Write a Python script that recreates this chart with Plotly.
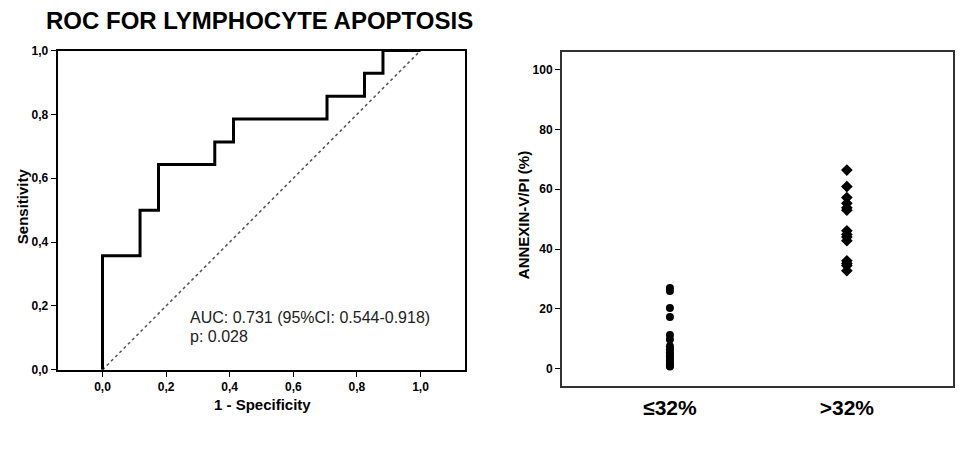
import plotly.graph_objects as go

# ---- ROC data (left panel) ----
fpr = [0, 0, 0.118, 0.118, 0.176, 0.176, 0.353, 0.353, 0.412, 0.412,
       0.706, 0.706, 0.824, 0.824, 0.882, 0.882, 1.0]
tpr = [0, 0.357, 0.357, 0.5, 0.5, 0.643, 0.643, 0.714, 0.714, 0.786,
       0.786, 0.857, 0.857, 0.929, 0.929, 1.0, 1.0]
ref_x = [0, 1]
ref_y = [0, 1]
roc_ticks = [0, 0.2, 0.4, 0.6, 0.8, 1.0]
roc_ticktext = ["0,0", "0,2", "0,4", "0,6", "0,8", "1,0"]
auc_text = "AUC: 0.731 (95%CI: 0.544-0.918)"
p_text = "p: 0.028"

# ---- Annexin data (right panel) ----
categories = ["≤32%", ">32%"]
low_group = [27.0, 26.0, 20.3, 17.3, 11.3, 9.8, 7.5, 6.5, 5.5, 4.8,
             4.0, 3.3, 2.7, 2.0, 1.5, 1.0, 0.8]
high_group = [66.4, 60.9, 57.2, 55.3, 53.8, 53.0, 46.1, 44.9, 44.0,
              42.8, 36.1, 35.2, 34.5, 32.8]
annex_ticks = [0, 20, 40, 60, 80, 100]

W, H = 960, 460
# vertical compensation for the capture (observed y_out = 0.972*y + 6.3)
SY, OY = 0.972, 6.3
def px(x): return x / W
def py(y): return 1 - ((y - OY) / SY) / H

FONT = "Liberation Sans, Arial, sans-serif"

fig = go.Figure()

fig.add_trace(go.Scatter(x=ref_x, y=ref_y, mode="lines",
                         line=dict(color="#555555", width=1.5, dash="dot"),
                         xaxis="x", yaxis="y", showlegend=False, hoverinfo="skip"))
fig.add_trace(go.Scatter(x=fpr, y=tpr, mode="lines",
                         line=dict(color="black", width=3),
                         xaxis="x", yaxis="y", showlegend=False))

fig.add_trace(go.Scatter(x=[0] * len(low_group), y=low_group, mode="markers",
                         marker=dict(symbol="circle", size=8, color="black"),
                         xaxis="x2", yaxis="y2", showlegend=False))
fig.add_trace(go.Scatter(x=[1] * len(high_group), y=high_group, mode="markers",
                         marker=dict(symbol="diamond", size=9, color="black"),
                         xaxis="x2", yaxis="y2", showlegend=False))

tickfont = dict(family=FONT, size=12, color="black", weight="bold")

fig.update_layout(
    width=W, height=H,
    margin=dict(l=0, r=0, t=0, b=0),
    paper_bgcolor="white", plot_bgcolor="white",
    font=dict(family=FONT, color="black"),
    xaxis=dict(domain=[px(57.7), px(465)], range=[-0.141, 1.14],
               tickvals=roc_ticks, ticktext=roc_ticktext, tickfont=tickfont,
               ticks="outside", ticklen=5, tickwidth=1, tickcolor="black",
               showline=True, linecolor="black", linewidth=2, mirror=True,
               showgrid=False, zeroline=False, anchor="y"),
    yaxis=dict(domain=[py(370), py(50)], range=[0, 1],
               tickvals=roc_ticks, ticktext=roc_ticktext, tickfont=tickfont,
               ticks="outside", ticklen=5, tickwidth=1, tickcolor="black",
               showline=True, linecolor="black", linewidth=2, mirror=True,
               showgrid=False, zeroline=False, anchor="x"),
    xaxis2=dict(domain=[px(562), px(953)], range=[-0.61, 1.60],
                tickvals=[0, 1], ticktext=categories,
                tickfont=dict(family=FONT, size=21, color="black", weight="bold"),
                ticks="outside", ticklen=1, tickcolor="rgba(0,0,0,0)",
                showline=True, linecolor="#333333", linewidth=2, mirror=True,
                showgrid=False, zeroline=False, anchor="y2"),
    yaxis2=dict(domain=[py(386.7), py(51.3)], range=[-5.9, 105.9],
                tickvals=annex_ticks, tickfont=tickfont,
                ticks="outside", ticklen=5, tickwidth=1, tickcolor="black",
                showline=True, linecolor="#333333", linewidth=2, mirror=True,
                showgrid=False, zeroline=False, anchor="x2"),
)

def ann(text, x, y, size, angle=0, color="black", xanchor="center"):
    return dict(text=text, x=px(x), y=py(y), xref="paper", yref="paper",
                xanchor=xanchor, yanchor="middle", textangle=angle,
                showarrow=False, font=dict(family=FONT, size=size, color=color))

annotations = [
    ann("<b>ROC FOR LYMPHOCYTE APOPTOSIS</b>", 259, 20, 24),
    ann("<b>Sensitivity</b>", 22, 206, 15, angle=-90),
    ann("<b>1 - Specificity</b>", 262, 405, 15),
    ann("<b>ANNEXIN-V/PI (%)</b>", 523, 215, 15, angle=-90),
    dict(text=auc_text, x=0.27, y=0.1625, xref="x", yref="y",
         xanchor="left", yanchor="middle", showarrow=False,
         font=dict(family=FONT, size=16, color="#222222")),
    dict(text=p_text, x=0.27, y=0.103, xref="x", yref="y",
         xanchor="left", yanchor="middle", showarrow=False,
         font=dict(family=FONT, size=16, color="#222222")),
]
fig.update_layout(annotations=annotations)

fig.write_html(
    "out.html",
    config={"displayModeBar": False},
    post_script="document.body.style.margin='0';document.body.style.overflow='hidden';",
)
